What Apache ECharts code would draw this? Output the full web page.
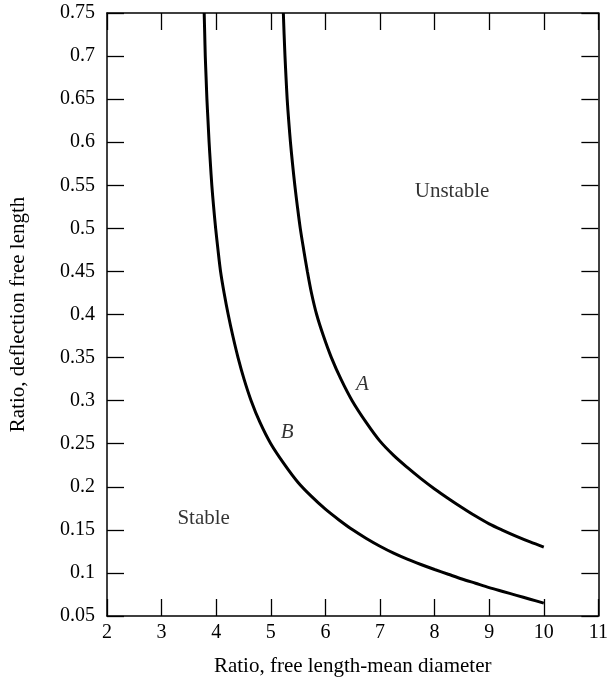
<!DOCTYPE html>
<html>
<head>
<meta charset="utf-8">
<script src="https://cdn.jsdelivr.net/npm/echarts@6/dist/echarts.min.js"></script>
<style>html,body{margin:0;padding:0;background:#fff}#c{width:611px;height:682px}</style>
</head>
<body>
<div id="c"></div>
<script>
var curveA = [[5.23,0.75],[5.244,0.725],[5.26,0.70],[5.279,0.675],[5.30,0.65],[5.328,0.625],[5.36,0.60],[5.398,0.575],[5.44,0.55],[5.488,0.525],[5.54,0.50],[5.603,0.475],[5.67,0.45],[5.745,0.425],[5.84,0.40],[5.965,0.375],[6.11,0.35],[6.285,0.325],[6.49,0.30],[6.75,0.2745],[7.0,0.253],[7.25,0.2365],[7.5,0.2225],[7.75,0.2095],[8.0,0.1975],[8.25,0.1865],[8.5,0.176],[8.75,0.166],[9.0,0.157],[9.25,0.1495],[9.5,0.1425],[9.75,0.136],[10.0,0.130]];
var curveB = [[3.78,0.75],[3.79,0.725],[3.80,0.70],[3.815,0.675],[3.83,0.65],[3.85,0.625],[3.87,0.60],[3.894,0.575],[3.92,0.55],[3.953,0.525],[3.99,0.50],[4.033,0.475],[4.08,0.45],[4.145,0.425],[4.22,0.40],[4.305,0.375],[4.40,0.35],[4.51,0.325],[4.64,0.30],[4.80,0.275],[5.0,0.25],[5.25,0.226],[5.5,0.205],[5.75,0.1885],[6.0,0.174],[6.25,0.1615],[6.5,0.150],[6.75,0.140],[7.0,0.131],[7.25,0.123],[7.5,0.116],[7.75,0.1098],[8.0,0.104],[8.25,0.0985],[8.5,0.093],[8.75,0.088],[9.0,0.083],[9.25,0.0785],[9.5,0.074],[9.75,0.0695],[10.0,0.065]];
var curveLabels = [["A",6.68,0.319],["B",5.3,0.263]];
var regionLabels = [["Unstable",8.32,0.543],["Stable",3.77,0.163]];
var xTicks = {min:2, max:11, interval:1};
var yTicks = {min:0.05, max:0.75, interval:0.05};
var xTitle = "Ratio, free length-mean diameter";
var yTitle = "Ratio, deflection free length";

var FONT = "Liberation Serif";
var FS = 20;
var axisBase = {
  axisLine:{show:true, onZero:false, lineStyle:{color:'#000', width:1.5}},
  axisTick:{show:true, inside:true, length:17, lineStyle:{color:'#000', width:1.3}},
  splitLine:{show:false}
};
function ax(extra){ return Object.assign({}, JSON.parse(JSON.stringify(axisBase)), extra); }

var chart = echarts.init(document.getElementById('c'), null, {renderer:'canvas'});
chart.setOption({
  animation:false,
  backgroundColor:'#fff',
  grid:{left:98, right:9, top:13, bottom:60, containLabel:false},
  xAxis:[
    ax({type:'value', position:'bottom', min:xTicks.min, max:xTicks.max, interval:xTicks.interval,
        axisLabel:{color:'#000', fontFamily:FONT, fontSize:FS, margin:7},
        name:xTitle, nameLocation:'middle', nameGap:40,
        nameTextStyle:{color:'#000', fontFamily:FONT, fontSize:FS+1}}),
    ax({type:'value', position:'top', min:xTicks.min, max:xTicks.max, interval:xTicks.interval,
        axisLabel:{show:false}})
  ],
  yAxis:[
    ax({type:'value', position:'left', min:yTicks.min, max:yTicks.max, interval:yTicks.interval,
        axisLabel:{color:'#000', fontFamily:FONT, fontSize:FS, margin:12,
          formatter:function(v){return String(Math.round(v*100)/100);}},
        name:yTitle, nameLocation:'middle', nameGap:78, nameRotate:90,
        nameTextStyle:{color:'#000', fontFamily:FONT, fontSize:FS+1}}),
    ax({type:'value', position:'right', min:yTicks.min, max:yTicks.max, interval:yTicks.interval,
        axisLabel:{show:false}})
  ],
  series:[
    {type:'line', data:curveA, smooth:0.3, showSymbol:false, lineStyle:{color:'#000', width:3}},
    {type:'line', data:curveB, smooth:0.3, showSymbol:false, lineStyle:{color:'#000', width:3}},
    {type:'scatter', symbolSize:0, silent:true,
      data:curveLabels.map(function(d){return {value:[d[1],d[2]], name:d[0]};}),
      label:{show:true, position:'inside', formatter:'{b}', color:'#000', fontFamily:FONT, fontStyle:'italic', fontSize:FS+1}},
    {type:'scatter', symbolSize:0, silent:true,
      data:regionLabels.map(function(d){return {value:[d[1],d[2]], name:d[0]};}),
      label:{show:true, position:'inside', formatter:'{b}', color:'#000', fontFamily:FONT, fontSize:FS+1}}
  ]
});
</script>
</body>
</html>
